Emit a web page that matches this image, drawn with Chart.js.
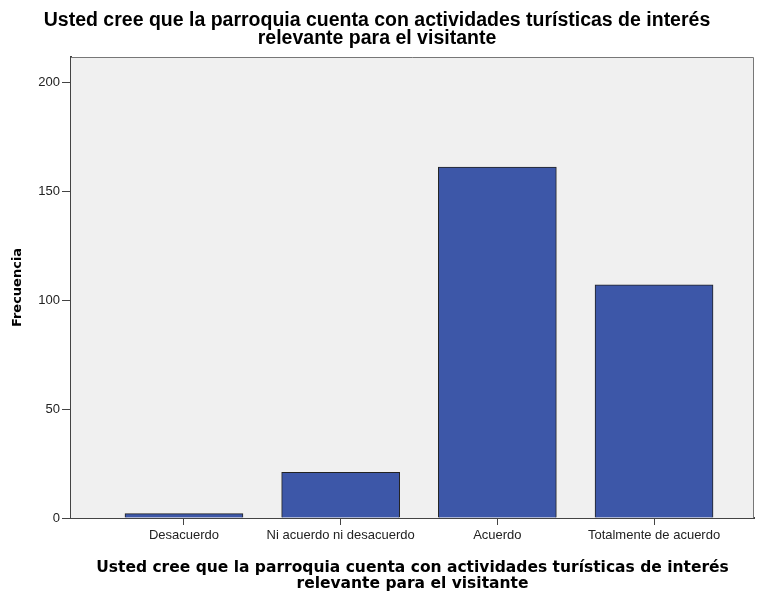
<!DOCTYPE html>
<html>
<head>
<meta charset="utf-8">
<script src="https://cdn.jsdelivr.net/npm/chart.js@4/dist/chart.umd.min.js"></script>
<style>
  html, body { margin: 0; background: #fff; }
  #wrap { width: 759px; height: 592px; }
</style>
</head>
<body>
<div id="wrap"><canvas id="chart"></canvas></div>
<script>
// data
const categories = ['Desacuerdo', 'Ni acuerdo ni desacuerdo', 'Acuerdo', 'Totalmente de acuerdo'];
const frecuencias = [2, 21, 161, 107];
const yTicks = [0, 50, 100, 150, 200];
const titleLines = ['Usted cree que la parroquia cuenta con actividades turísticas de interés', 'relevante para el visitante'];
const yTitle = 'Frecuencia';

// grey plot box like SPSS, with a thin frame on top and right
const plotBox = {
  id: 'plotBox',
  beforeDatasetsDraw(chart) {
    const { ctx, chartArea: a } = chart;
    ctx.save();
    ctx.fillStyle = '#f0f0f0';
    ctx.fillRect(a.left, a.top, a.right - a.left, a.bottom - a.top);
    ctx.strokeStyle = '#777';
    ctx.lineWidth = 1;
    ctx.beginPath();
    ctx.moveTo(a.left, a.top + 0.5);
    ctx.lineTo(a.right - 0.5, a.top + 0.5);
    ctx.lineTo(a.right - 0.5, a.bottom);
    ctx.stroke();
    ctx.restore();
  }
};

new Chart(document.getElementById('chart'), {
  type: 'bar',
  data: {
    datasets: [{
      data: frecuencias.map((v, i) => ({ x: i, y: v })),
      backgroundColor: '#3d57a8',
      borderColor: '#222',
      borderWidth: 1,
      borderSkipped: 'bottom',
      barThickness: 118
    }]
  },
  plugins: [plotBox],
  options: {
    responsive: true,
    maintainAspectRatio: false,
    animation: false,
    layout: { padding: { left: 0, right: 5, top: 0, bottom: 0 } },
    plugins: {
      legend: { display: false },
      tooltip: { enabled: false },
      title: {
        display: true,
        text: titleLines,
        color: '#000',
        font: { family: 'Liberation Sans, Arial, sans-serif', size: 19.5, weight: 'bold', lineHeight: '18px' },
        padding: { top: 12, bottom: 9 }
      }
    },
    scales: {
      x: {
        type: 'linear',
        offset: false,
        min: -0.721,
        max: 3.638,
        afterBuildTicks: s => { s.ticks = categories.map((_, i) => ({ value: i })); },
        afterFit: s => { s.height = 74; },
        ticks: {
          callback: v => categories[v],
          color: '#222',
          font: { family: 'Liberation Sans, Arial, sans-serif', size: 13 },
          padding: 3,
          maxRotation: 0,
          autoSkip: false
        },
        grid: { offset: false, drawOnChartArea: false, drawTicks: true, tickLength: 7, color: '#444' },
        border: { color: '#444', width: 2 },
        title: {
          display: true,
          text: titleLines,
          color: '#000',
          font: { family: 'DejaVu Sans, Verdana, sans-serif', size: 15.5, weight: 'bold', lineHeight: '16px' },
          padding: { top: 0, bottom: 0 }
        }
      },
      y: {
        min: 0,
        max: 211.5,
        afterBuildTicks: s => { s.ticks = yTicks.map(v => ({ value: v })); },
        afterFit: s => { s.width = 71; },
        ticks: {
          color: '#222',
          font: { family: 'Liberation Sans, Arial, sans-serif', size: 13 },
          padding: 2
        },
        grid: { drawOnChartArea: false, drawTicks: true, tickLength: 9, color: '#444' },
        border: { color: '#444', width: 2 },
        title: {
          display: true,
          text: yTitle,
          color: '#000',
          font: { family: 'DejaVu Sans, Verdana, sans-serif', size: 13, weight: 'bold', lineHeight: '14px' },
          padding: { top: 11, bottom: 0 }
        }
      }
    }
  }
});
</script>
</body>
</html>
